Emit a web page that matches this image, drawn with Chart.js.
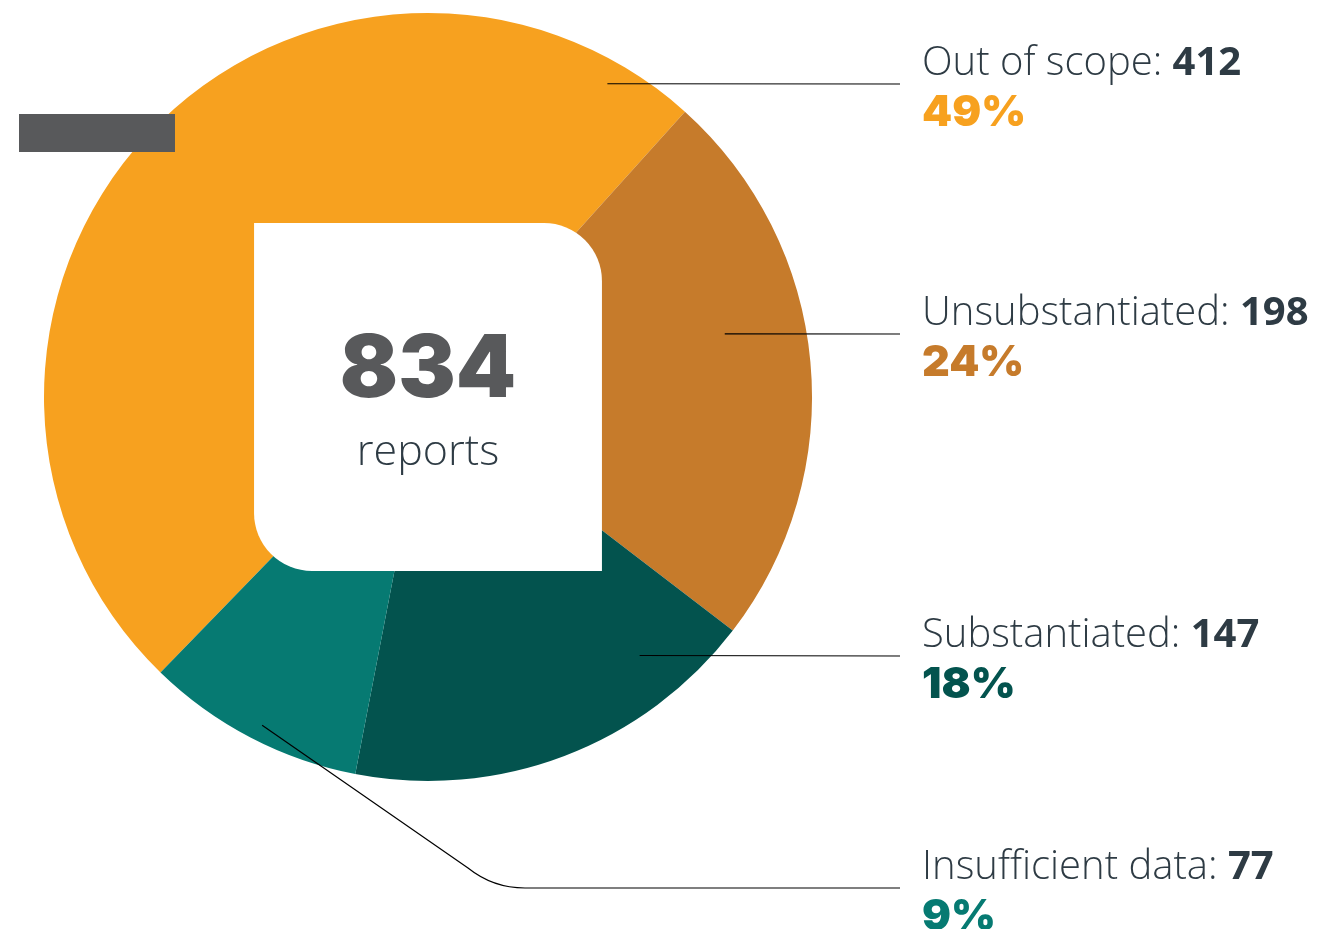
<!DOCTYPE html>
<html>
<head>
<meta charset="utf-8">
<script src="https://cdn.jsdelivr.net/npm/chart.js@4"></script>
<style>
  html, body { margin: 0; padding: 0; background: #fff; }
  #wrap { position: relative; width: 1321px; height: 929px; }
  #redact { position: absolute; left: 19px; top: 114px; width: 156px; height: 38px; background: #58595b; z-index: 2; }
</style>
</head>
<body>
<div id="wrap">
  <canvas id="pie" width="1321" height="929"></canvas>
  <div id="redact"></div>
</div>
<script>
const categories = ['Out of scope', 'Unsubstantiated', 'Substantiated', 'Insufficient data'];
const reportCounts = [412, 198, 147, 77];
const sliceColors = ['#F7A11F', '#C67B2B', '#03534E', '#067A72'];
const centerLabel = 'reports';

// where each leader line starts inside the pie: [degrees clockwise from top, fraction of radius]
const leaderStarts = [[29.8, 0.94], [78, 0.79], [140.7, 0.87], [206.8, 0.958]];
const leaderY = [84, 334, 656, 888];

const total = reportCounts.reduce((a, b) => a + b, 0);
const textColor = '#2E3B44';

const overlay = {
    id: 'overlay',
    afterDraw(chart) {
        const ctx = chart.ctx;
        const arc = chart.getDatasetMeta(0).data[0];
        const cx = arc.x, cy = arc.y, r = arc.outerRadius;

        // white centre card, rounded on two corners
        const half = r * 0.453;
        const cr = 58;
        const x0 = cx - half, x1 = cx + half, y0 = cy - half, y1 = cy + half;
        ctx.save();
        ctx.fillStyle = '#fff';
        ctx.beginPath();
        ctx.moveTo(x0, y0);
        ctx.lineTo(x1 - cr, y0);
        ctx.arcTo(x1, y0, x1, y0 + cr, cr);
        ctx.lineTo(x1, y1);
        ctx.lineTo(x0 + cr, y1);
        ctx.arcTo(x0, y1, x0, y1 - cr, cr);
        ctx.closePath();
        ctx.fill();

        ctx.textAlign = 'center';
        ctx.fillStyle = '#58595B';
        ctx.font = '900 86px Inter, Lato, sans-serif';
        ctx.fillText(String(total), cx, cy);
        ctx.fillStyle = textColor;
        ctx.font = '300 43px "Open Sans", sans-serif';
        ctx.fillText(centerLabel, cx, cy + 68);

        // leader lines and labels
        const lineEnd = 900, textX = 922;
        ctx.strokeStyle = '#000';
        ctx.lineWidth = 1.2;
        ctx.textAlign = 'left';
        categories.forEach((name, i) => {
            const a = leaderStarts[i][0] * Math.PI / 180;
            const sx = cx + Math.sin(a) * r * leaderStarts[i][1];
            const sy = cy - Math.cos(a) * r * leaderStarts[i][1];
            const ly = leaderY[i];
            ctx.beginPath();
            ctx.moveTo(sx, sy);
            if (Math.abs(sy - ly) > 5) {
                // diagonal run, then ease into the horizontal
                ctx.lineTo(468, 868);
                ctx.quadraticCurveTo(493, ly, 525, ly);
            }
            ctx.lineTo(lineEnd, ly);
            ctx.stroke();

            ctx.fillStyle = textColor;
            ctx.font = '300 40px "Open Sans", sans-serif';
            const lab = name + ': ';
            ctx.fillText(lab, textX, ly - 9);
            const w = ctx.measureText(lab).width;
            ctx.font = '700 40px "Open Sans", sans-serif';
            ctx.fillText(String(reportCounts[i]), textX + w, ly - 9);

            ctx.fillStyle = sliceColors[i];
            ctx.font = '900 43px Inter, Lato, sans-serif';
            ctx.fillText(Math.round(reportCounts[i] / total * 100) + '%', textX, ly + 42);
        });
        ctx.restore();
    }
};

// start angle so that the slices fall where they do in the picture
const startDeg = 42 - reportCounts[0] / total * 360;

new Chart(document.getElementById('pie'), {
    type: 'pie',
    data: {
        labels: categories,
        datasets: [{
            data: reportCounts,
            backgroundColor: sliceColors,
            borderWidth: 0
        }]
    },
    options: {
        responsive: false,
        animation: false,
        rotation: startDeg,
        layout: { padding: { left: 44, top: 13, right: 509, bottom: 148 } },
        plugins: {
            legend: { display: false },
            tooltip: { enabled: false }
        }
    },
    plugins: [overlay]
});
</script>
</body>
</html>
